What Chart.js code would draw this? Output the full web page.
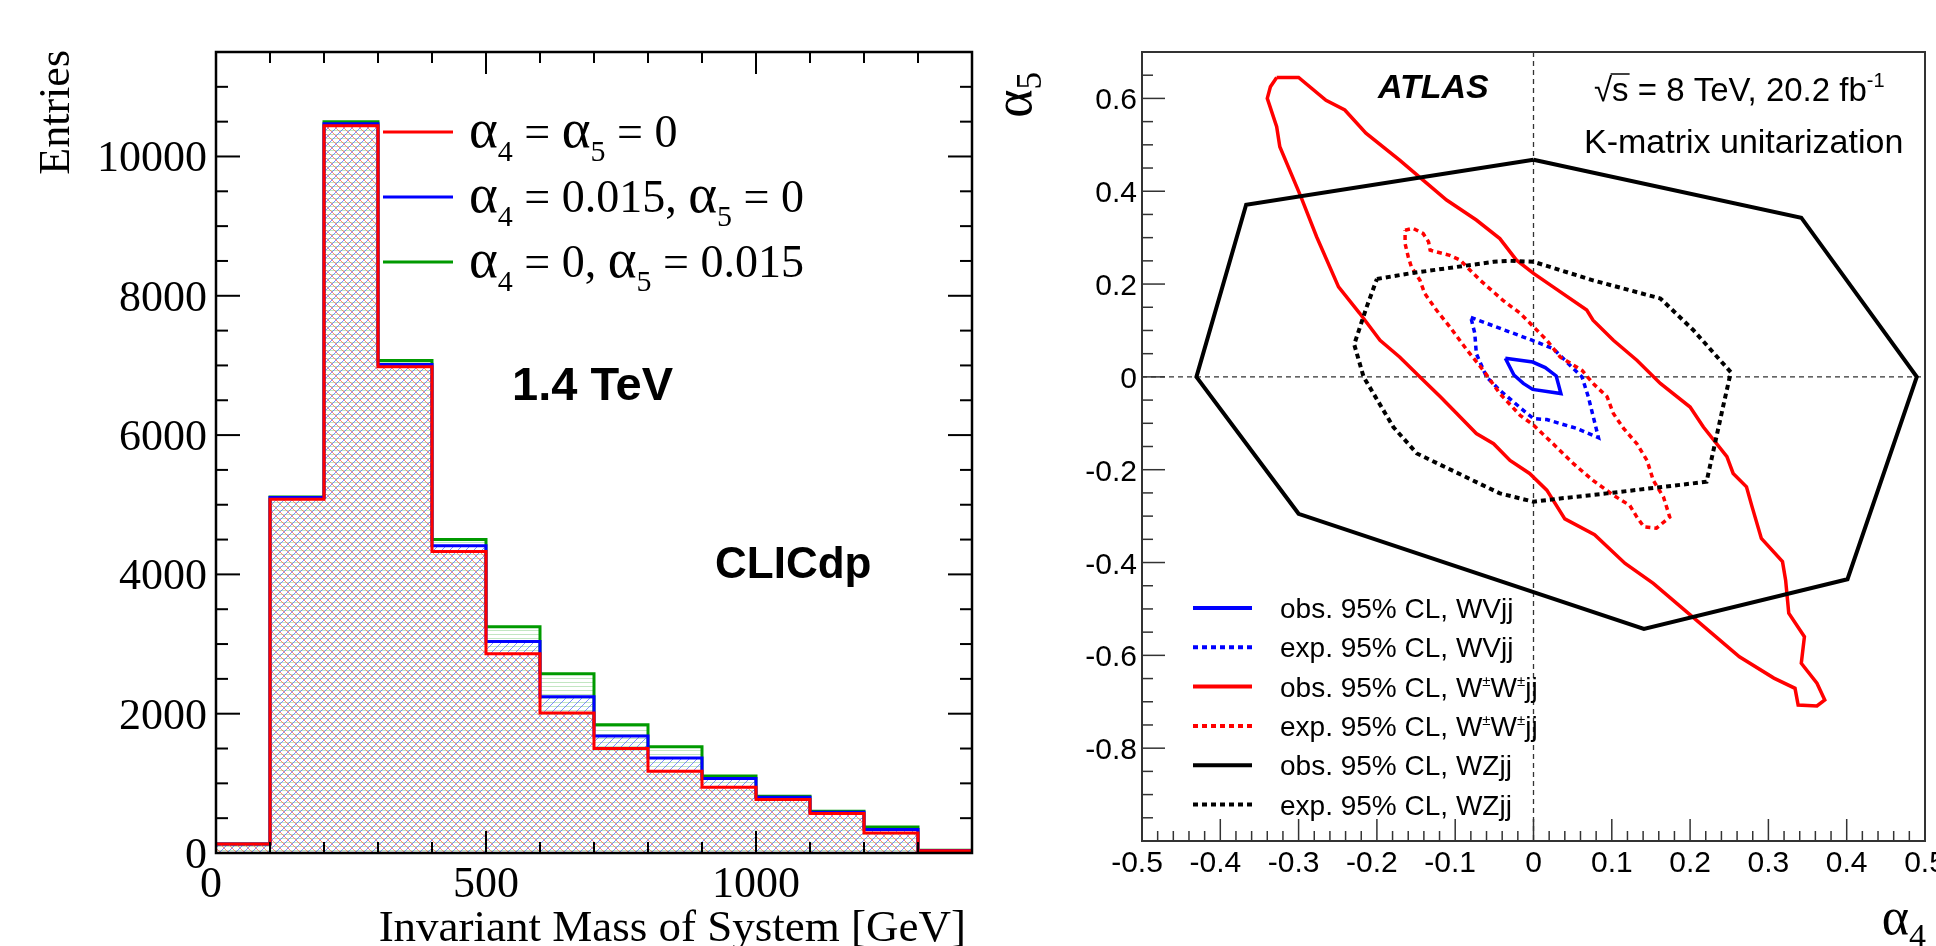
<!DOCTYPE html>
<html>
<head>
<meta charset="utf-8">
<script src="https://cdn.jsdelivr.net/npm/chart.js@4.4.1/dist/chart.umd.min.js"></script>
<style>
  html, body { margin: 0; padding: 0; background: #fff; }
  body { width: 1936px; height: 946px; position: relative; overflow: hidden; }
  canvas { position: absolute; top: 0; }
  #left { left: 0; }
  #right { left: 1000px; }
</style>
</head>
<body>
<canvas id="left" width="1000" height="946"></canvas>
<canvas id="right" width="936" height="946"></canvas>
<script>
// ---- left panel: invariant mass histogram (100 GeV bins) ----
const binEdges = [0, 100, 200, 300, 400, 500, 600, 700, 800, 900, 1000, 1100, 1200, 1300];
const massMax = 1400;
const entriesSM = [130, 5080, 10440, 6980, 4330, 2860, 2010, 1500, 1175, 945, 767, 566, 288, 33];
const entriesA4 = [130, 5105, 10470, 7015, 4410, 3035, 2245, 1680, 1365, 1070, 800, 585, 336, 35];
const entriesA5 = [130, 5110, 10500, 7070, 4500, 3250, 2575, 1840, 1525, 1105, 815, 600, 374, 38];
const massTicks = [0, 500, 1000];
const entryTicks = [0, 2000, 4000, 6000, 8000, 10000];
const entriesMax = 11500;

// ---- right panel: 95% CL contours in (alpha4, alpha5) ----
const wzObs = [[0, 0.468], [0.342, 0.343], [0.4895, 0], [0.401, -0.436], [0.141, -0.543],
  [-0.300, -0.295], [-0.4305, 0], [-0.367, 0.371]];
const wzExp = [[-0.200, 0.211], [-0.158, 0.223], [-0.102, 0.236], [-0.051, 0.248], [-0.030, 0.250],
  [0, 0.248], [0.076, 0.208], [0.162, 0.169], [0.204, 0.101], [0.252, 0.010], [0.242, -0.065],
  [0.221, -0.226], [0.094, -0.251], [0.034, -0.262], [0, -0.269], [-0.043, -0.251], [-0.149, -0.165],
  [-0.179, -0.108], [-0.217, 0], [-0.229, 0.070], [-0.213, 0.151]];
const wwObs = [[-0.328, 0.645], [-0.300, 0.645], [-0.265, 0.596], [-0.241, 0.575], [-0.214, 0.525],
  [-0.171, 0.467], [-0.141, 0.424], [-0.111, 0.381], [-0.073, 0.338], [-0.043, 0.298], [-0.022, 0.252],
  [0, 0.223], [0.025, 0.194], [0.068, 0.144], [0.076, 0.122], [0.102, 0.079], [0.132, 0.036],
  [0.162, -0.014], [0.200, -0.065], [0.217, -0.108], [0.247, -0.172], [0.255, -0.208], [0.272, -0.237],
  [0.279, -0.279], [0.291, -0.348], [0.318, -0.398], [0.322, -0.438], [0.326, -0.509], [0.346, -0.560],
  [0.342, -0.617], [0.362, -0.660], [0.372, -0.696], [0.362, -0.709], [0.338, -0.707], [0.334, -0.671],
  [0.307, -0.649], [0.263, -0.603], [0.208, -0.524], [0.153, -0.445], [0.117, -0.402], [0.078, -0.340],
  [0.040, -0.306], [0.017, -0.244], [-0.005, -0.208], [-0.030, -0.180], [-0.051, -0.144], [-0.073, -0.122],
  [-0.098, -0.079], [-0.119, -0.043], [-0.145, 0], [-0.171, 0.043], [-0.196, 0.079], [-0.222, 0.137],
  [-0.249, 0.194], [-0.277, 0.302], [-0.297, 0.388], [-0.324, 0.496], [-0.328, 0.539], [-0.340, 0.600],
  [-0.336, 0.625]];
const wwExp = [[-0.164, 0.316], [-0.154, 0.320], [-0.141, 0.309], [-0.134, 0.291], [-0.132, 0.273],
  [-0.107, 0.262], [-0.094, 0.252], [-0.068, 0.208], [-0.039, 0.165], [-0.017, 0.137], [0, 0.108],
  [0.017, 0.079], [0.034, 0.043], [0.062, 0.014], [0.076, -0.014], [0.094, -0.043], [0.102, -0.079],
  [0.115, -0.111], [0.132, -0.144], [0.145, -0.180], [0.153, -0.223], [0.166, -0.259], [0.174, -0.302],
  [0.157, -0.326], [0.141, -0.323], [0.132, -0.302], [0.123, -0.277], [0.102, -0.255], [0.076, -0.223],
  [0.051, -0.187], [0.025, -0.144], [0, -0.104], [-0.017, -0.083], [-0.043, -0.036], [-0.064, 0.014],
  [-0.085, 0.058], [-0.107, 0.108], [-0.124, 0.144], [-0.139, 0.180], [-0.145, 0.208], [-0.156, 0.237],
  [-0.160, 0.259], [-0.164, 0.287]];
const wvExp = [[-0.080, 0.128], [-0.002, 0.079], [0.025, 0.061], [0.051, 0.018], [0.062, 0],
  [0.070, -0.043], [0.083, -0.131], [0.055, -0.111], [0.017, -0.092], [0, -0.090], [-0.013, -0.072],
  [-0.043, -0.029], [-0.060, 0], [-0.073, 0.050], [-0.075, 0.094]];
const wvObs = [[-0.036, 0.040], [-0.001, 0.032], [0.015, 0.020], [0.029, 0.002], [0.035, -0.036],
  [-0.001, -0.027], [-0.013, -0.014], [-0.025, 0.004]];
const a4Ticks = ['-0.5', '-0.4', '-0.3', '-0.2', '-0.1', '0', '0.1', '0.2', '0.3', '0.4', '0.5'];
const a5Ticks = ['-0.8', '-0.6', '-0.4', '-0.2', '0', '0.2', '0.4', '0.6'];

const SERIF = '"Liberation Serif", "Times New Roman", serif';
const SANS = '"Liberation Sans", Arial, Helvetica, sans-serif';

// text with sub/superscripts: parts = [[text, kind], ...], kind: 'sub' | 'sup' | 'g' (greek, a bit larger)
function drawRich(ctx, parts, x, y, o) {
  const size = o.size;
  const small = Math.round(size * (o.subScale || 0.7));
  const big = Math.round(size * (o.greekScale || 1.15));
  const pre = (o.style || '') + ' ' + (o.weight || '') + ' ';
  ctx.save();
  ctx.translate(x, y);
  if (o.rot) ctx.rotate(o.rot);
  ctx.fillStyle = o.color || '#000';
  ctx.textAlign = 'left';
  ctx.textBaseline = 'alphabetic';
  const fonts = parts.map(p => pre + (p[1] === 'g' ? big : p[1] ? small : size) + 'px ' + o.family);
  let total = 0;
  const widths = parts.map((p, i) => { ctx.font = fonts[i]; const w = ctx.measureText(p[0]).width; total += w; return w; });
  let cx = o.align === 'right' ? -total : o.align === 'center' ? -total / 2 : 0;
  parts.forEach((p, i) => {
    ctx.font = fonts[i];
    const dy = p[1] === 'sub' ? (o.subDy || size * 0.3) : p[1] === 'sup' ? -(o.supDy || size * 0.4) : 0;
    ctx.fillText(p[0], cx, dy);
    cx += widths[i];
  });
  ctx.restore();
  return total;
}

function seg(ctx, x1, y1, x2, y2) {
  ctx.beginPath(); ctx.moveTo(x1, y1); ctx.lineTo(x2, y2); ctx.stroke();
}

function hatch(ctx, size, color, width, draw) {
  const c = document.createElement('canvas');
  c.width = size; c.height = size;
  const t = c.getContext('2d');
  t.strokeStyle = color; t.lineWidth = width;
  draw(t, size);
  return ctx.createPattern(c, 'repeat');
}

// ---------------- left chart ----------------
const lctx = document.getElementById('left').getContext('2d');
const redFill = hatch(lctx, 8, 'rgba(255,110,90,0.8)', 1, (t, s) => {
  seg(t, -1, -1, s + 1, s + 1); seg(t, -1, s - 1, 1, s + 1); seg(t, s - 1, -1, s + 1, 1);
});
const blueFill = hatch(lctx, 8, 'rgba(70,95,255,0.7)', 1, (t, s) => {
  seg(t, -1, s + 1, s + 1, -1); seg(t, -1, 1, 1, -1); seg(t, s - 1, s + 1, s + 1, s - 1);
});
const greenFill = hatch(lctx, 4, 'rgba(120,200,120,0.45)', 1, (t, s) => { seg(t, 0, 2.5, s, 2.5); });

function stepPoints(vals) {
  return binEdges.map((e, i) => ({ x: e, y: vals[i] })).concat([{ x: massMax, y: vals[vals.length - 1] }]);
}

const leftDecor = {
  id: 'leftDecor',
  afterDatasetsDraw(chart) {
    const { ctx, chartArea: a, scales: { x, y } } = chart;
    ctx.save();
    ctx.strokeStyle = '#000';
    ctx.lineWidth = 2;
    for (let v = 0; v <= massMax; v += 100) {
      const px = x.getPixelForValue(v);
      const len = massTicks.includes(v) ? 22 : 11;
      seg(ctx, px, a.bottom, px, a.bottom - len);
      seg(ctx, px, a.top, px, a.top + len);
    }
    for (let v = 0; v <= entriesMax; v += 500) {
      const py = y.getPixelForValue(v);
      const len = v % 2000 === 0 ? 24 : 12;
      seg(ctx, a.left, py, a.left + len, py);
      seg(ctx, a.right, py, a.right - len, py);
    }
    ctx.lineWidth = 2.5;
    ctx.strokeRect(a.left, a.top, a.right - a.left, a.bottom - a.top);

    ctx.fillStyle = '#000';
    ctx.font = '44px ' + SERIF;
    ctx.textAlign = 'right';
    ctx.textBaseline = 'alphabetic';
    entryTicks.forEach(v => ctx.fillText(String(v), a.left - 9, y.getPixelForValue(v) + 15));
    ctx.textAlign = 'center';
    massTicks.forEach(v => ctx.fillText(String(v), x.getPixelForValue(v) - (v === 0 ? 5 : 0), 897));
    ctx.font = '45px ' + SERIF;
    ctx.textAlign = 'right';
    ctx.fillText('Invariant Mass of System [GeV]', 966, 941);
    drawRich(ctx, [['Entries']], 69, 50, { size: 44, family: SERIF, rot: -Math.PI / 2, align: 'right' });

    // legend
    const rows = [
      ['#ff0000', [['α', 'g'], ['4', 'sub'], [' = '], ['α', 'g'], ['5', 'sub'], [' = 0']]],
      ['#0000ff', [['α', 'g'], ['4', 'sub'], [' = 0.015, '], ['α', 'g'], ['5', 'sub'], [' = 0']]],
      ['#009a00', [['α', 'g'], ['4', 'sub'], [' = 0, '], ['α', 'g'], ['5', 'sub'], [' = 0.015']]]
    ];
    rows.forEach((r, i) => {
      const yy = 132 + i * 65;
      ctx.strokeStyle = r[0]; ctx.lineWidth = 3;
      seg(ctx, 383, yy, 453, yy);
      drawRich(ctx, r[1], 469, yy + 15, { size: 46, family: SERIF, subScale: 0.66, subDy: 14, greekScale: 1.2 });
    });

    drawRich(ctx, [['1.4 TeV']], 512, 400, { size: 47, family: SANS, weight: 'bold' });
    drawRich(ctx, [['CLICdp']], 715, 578, { size: 44, family: SANS, weight: 'bold' });
    ctx.restore();
  }
};

new Chart(lctx, {
  type: 'line',
  data: {
    datasets: [
      { data: stepPoints(entriesSM), borderColor: '#ff0000', backgroundColor: redFill, borderWidth: 3, fill: 'origin', stepped: 'before' },
      { data: stepPoints(entriesA4), borderColor: '#0000ff', backgroundColor: blueFill, borderWidth: 3, fill: 'origin', stepped: 'before' },
      { data: stepPoints(entriesA5), borderColor: '#009a00', backgroundColor: greenFill, borderWidth: 3, fill: 'origin', stepped: 'before' }
    ]
  },
  options: {
    responsive: false,
    animation: false,
    devicePixelRatio: 1,
    events: [],
    layout: { padding: { left: 216, right: 28, top: 52, bottom: 93 } },
    elements: { point: { radius: 0 }, line: { tension: 0, borderJoinStyle: 'miter' } },
    scales: {
      x: { type: 'linear', min: 0, max: massMax, display: false },
      y: { type: 'linear', min: 0, max: entriesMax, display: false }
    },
    plugins: { legend: { display: false }, tooltip: { enabled: false } }
  },
  plugins: [leftDecor]
});

// ---------------- right chart ----------------
const rctx = document.getElementById('right').getContext('2d');
const closed = pts => pts.concat([pts[0]]).map(p => ({ x: p[0], y: p[1] }));
const DOT = [5, 4];

const contours = [
  { pts: wzObs, color: '#000000', width: 4, dash: [], label: [['obs. 95% CL, WZjj']] },
  { pts: wzExp, color: '#000000', width: 4, dash: DOT, label: [['exp. 95% CL, WZjj']] },
  { pts: wwObs, color: '#ff0000', width: 3.5, dash: [], label: [['obs. 95% CL, W'], ['±', 'sup'], ['W'], ['±', 'sup'], ['jj']] },
  { pts: wwExp, color: '#ff0000', width: 3.5, dash: DOT, label: [['exp. 95% CL, W'], ['±', 'sup'], ['W'], ['±', 'sup'], ['jj']] },
  { pts: wvExp, color: '#0000ff', width: 3.5, dash: DOT, label: [['exp. 95% CL, WVjj']] },
  { pts: wvObs, color: '#0000ff', width: 3.5, dash: [], label: [['obs. 95% CL, WVjj']] }
];
const legendOrder = [5, 4, 2, 3, 0, 1];

const rightDecor = {
  id: 'rightDecor',
  beforeDatasetsDraw(chart) {
    const { ctx, chartArea: a, scales: { x, y } } = chart;
    ctx.save();
    ctx.strokeStyle = '#333';
    ctx.lineWidth = 1.3;
    ctx.setLineDash([5, 4]);
    const x0 = x.getPixelForValue(0), y0 = y.getPixelForValue(0);
    seg(ctx, x0, a.top, x0, a.bottom);
    seg(ctx, a.left, y0, a.right, y0);
    ctx.restore();
  },
  afterDatasetsDraw(chart) {
    const { ctx, chartArea: a, scales: { x, y } } = chart;
    ctx.save();
    ctx.strokeStyle = '#333';
    ctx.lineWidth = 1.5;
    for (let i = -25; i <= 25; i++) {
      const px = x.getPixelForValue(i * 0.02);
      seg(ctx, px, a.bottom, px, a.bottom - (i % 5 === 0 ? 22 : 10));
    }
    for (let i = -20; i <= 14; i++) {
      const py = y.getPixelForValue(i * 0.05);
      seg(ctx, a.left, py, a.left + (i % 4 === 0 ? 23 : 11), py);
    }
    ctx.lineWidth = 2;
    ctx.strokeRect(a.left, a.top, a.right - a.left, a.bottom - a.top);

    ctx.fillStyle = '#000';
    ctx.font = '30px ' + SANS;
    ctx.textBaseline = 'alphabetic';
    ctx.textAlign = 'center';
    a4Ticks.forEach(t => ctx.fillText(t, x.getPixelForValue(parseFloat(t)) - (t[0] === '-' ? 5 : 0), 872));
    ctx.textAlign = 'right';
    a5Ticks.forEach(t => ctx.fillText(t, a.left - 5, y.getPixelForValue(parseFloat(t)) + 11));

    drawRich(ctx, [['α'], ['5', 'sub']], 31, 72, { size: 54, family: SERIF, rot: -Math.PI / 2, align: 'right', subScale: 0.64, subDy: 10 });
    drawRich(ctx, [['α'], ['4', 'sub']], 926, 934, { size: 52, family: SERIF, align: 'right', subScale: 0.66, subDy: 13 });

    drawRich(ctx, [['ATLAS']], 378, 98, { size: 34, family: SANS, weight: 'bold', style: 'italic' });
    // sqrt(s) with an overbar
    ctx.font = '33px ' + SANS;
    ctx.textAlign = 'left';
    const rootW = ctx.measureText('√').width;
    const sW = ctx.measureText('s').width;
    ctx.fillText('√', 594, 101);
    ctx.lineWidth = 1.5;
    ctx.strokeStyle = '#000';
    seg(ctx, 594 + rootW - 1.5, 101 - 27, 594 + rootW + sW + 1, 101 - 27);
    drawRich(ctx, [['s = 8 TeV, 20.2 fb'], ['-1', 'sup']], 594 + rootW, 101, { size: 33, family: SANS, subScale: 0.6, supDy: 14 });
    drawRich(ctx, [['K-matrix unitarization']], 584, 153, { size: 34, family: SANS });

    legendOrder.forEach((k, i) => {
      const c = contours[k];
      const yy = 608 + i * 39.3;
      ctx.strokeStyle = c.color;
      ctx.lineWidth = 4;
      ctx.setLineDash(c.dash);
      seg(ctx, 193, yy, 252, yy);
      ctx.setLineDash([]);
      drawRich(ctx, c.label, 280, yy + 10, { size: 28, family: SANS, subScale: 0.55, supDy: 11 });
    });
    ctx.restore();
  }
};

new Chart(rctx, {
  type: 'scatter',
  data: {
    datasets: contours.map(c => ({
      data: closed(c.pts),
      showLine: true,
      borderColor: c.color,
      borderWidth: c.width,
      borderDash: c.dash,
      fill: false,
      pointRadius: 0,
      tension: 0
    }))
  },
  options: {
    responsive: false,
    animation: false,
    devicePixelRatio: 1,
    events: [],
    layout: { padding: { left: 142, right: 11, top: 52, bottom: 105 } },
    scales: {
      x: { type: 'linear', min: -0.5, max: 0.5, display: false },
      y: { type: 'linear', min: -1.0, max: 0.7, display: false }
    },
    plugins: { legend: { display: false }, tooltip: { enabled: false } }
  },
  plugins: [rightDecor]
});
</script>
</body>
</html>
